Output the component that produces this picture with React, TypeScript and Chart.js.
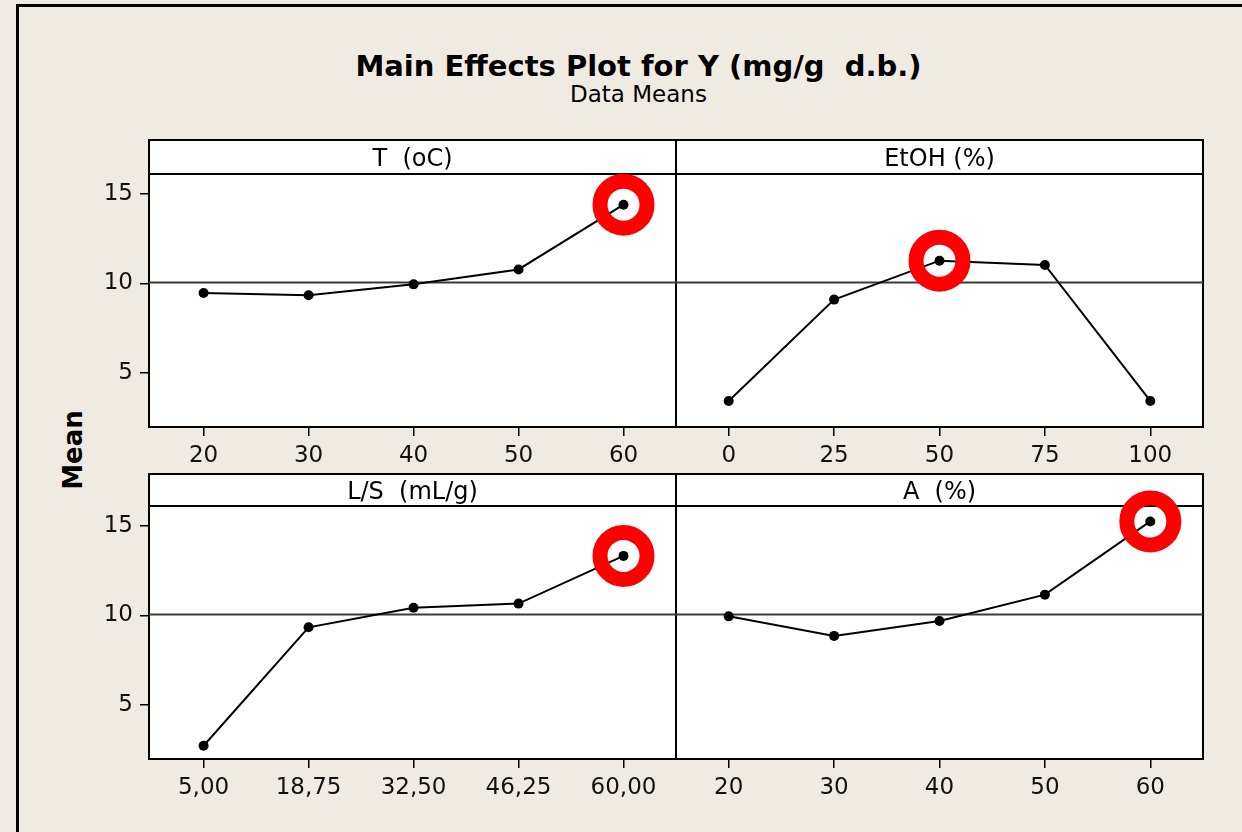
import React, { useEffect, useRef } from 'react';
import { Chart, registerables } from 'chart.js';

Chart.register(...registerables);

const FONT = "'DejaVu Sans', 'Liberation Sans', sans-serif";
const PAGE_BG = '#F0EBE2';

// Factor levels and the mean response at each level
const tLevels = ['20', '30', '40', '50', '60'];
const tMeans = [9.47, 9.34, 9.95, 10.78, 14.39];

const etohLevels = ['0', '25', '50', '75', '100'];
const etohMeans = [3.45, 9.1, 11.27, 11.03, 3.45];

const lsLevels = ['5,00', '18,75', '32,50', '46,25', '60,00'];
const lsMeans = [2.74, 9.34, 10.43, 10.66, 13.32];

const aLevels = ['20', '30', '40', '50', '60'];
const aMeans = [9.95, 8.86, 9.69, 11.16, 15.24];

// Overall mean of Y and the shared mean axis
const grandMean = 10.05;
const meanTicks = [5, 10, 15];
const meanMin = 2.0;
const meanMax = 16.1;

type Panel = {
  id: string;
  title: string;
  levels: string[];
  means: number[];
  min: number;
  max: number;
};

const argMax = (v: number[]) => v.indexOf(Math.max(...v));

// Draws the white panel boxes with their header strips behind the data
function panelFrames(panels: Panel[], headerH: number) {
  return {
    id: 'panelFrames',
    beforeDraw(chart: any) {
      const { ctx, chartArea } = chart;
      ctx.save();
      for (const p of panels) {
        const s = chart.scales[p.id];
        const left = s.left;
        const w = s.right - s.left;
        const top = chartArea.top;
        const h = chartArea.bottom - chartArea.top;
        ctx.fillStyle = '#FFFFFF';
        ctx.fillRect(left, top - headerH, w, h + headerH);
        ctx.strokeStyle = '#000000';
        ctx.lineWidth = 2;
        ctx.strokeRect(left, top - headerH, w, headerH);
        ctx.strokeRect(left, top, w, h);
        ctx.fillStyle = '#000000';
        ctx.font = `24px ${FONT}`;
        ctx.textAlign = 'center';
        ctx.textBaseline = 'alphabetic';
        ctx.fillText(p.title, left + w / 2, top - headerH / 2 + 8.75);
      }
      ctx.restore();
    },
  };
}

function buildRow(
  canvas: HTMLCanvasElement,
  panels: Panel[],
  padTop: number,
  headerH: number,
  axisH: number
) {
  const datasets: any[] = [];
  for (const p of panels) {
    const best = argMax(p.means);
    datasets.push({
      label: `${p.title} best level`,
      xAxisID: p.id,
      yAxisID: 'y',
      data: [{ x: best, y: p.means[best] }],
      showLine: false,
      pointRadius: 23.5,
      pointHoverRadius: 23.5,
      pointBorderWidth: 15,
      pointBorderColor: '#FF0000',
      pointBackgroundColor: 'rgba(0,0,0,0)',
      clip: false,
      order: 0,
    });
    datasets.push({
      label: p.title,
      xAxisID: p.id,
      yAxisID: 'y',
      data: p.means.map((y, i) => ({ x: i, y })),
      borderColor: '#000000',
      borderWidth: 2,
      pointRadius: 5,
      pointHoverRadius: 5,
      pointBackgroundColor: '#000000',
      pointBorderWidth: 0,
      order: 1,
    });
    datasets.push({
      label: 'Grand mean',
      xAxisID: p.id,
      yAxisID: 'y',
      data: [
        { x: p.min, y: grandMean },
        { x: p.max, y: grandMean },
      ],
      borderColor: '#3A3A3A',
      borderWidth: 2,
      pointRadius: 0,
      pointHoverRadius: 0,
      order: 2,
    });
  }

  const tickFont = { family: FONT, size: 23 };
  const grid = {
    drawOnChartArea: false,
    drawTicks: true,
    tickLength: 9,
    color: '#000000',
    lineWidth: 1.5,
  };

  const scales: any = {};
  for (const p of panels) {
    scales[p.id] = {
      type: 'linear',
      position: 'bottom',
      stack: 'row',
      min: p.min,
      max: p.max,
      afterBuildTicks: (s: any) => {
        s.ticks = p.levels.map((_l, i) => ({ value: i }));
      },
      afterFit: (s: any) => {
        s.height = axisH;
        s.paddingLeft = 0;
        s.paddingRight = 0;
      },
      ticks: {
        callback: (_v: any, i: number) => p.levels[i],
        font: tickFont,
        color: '#111111',
        padding: 6,
        maxRotation: 0,
        autoSkip: false,
      },
      grid,
      border: { display: false },
    };
  }
  scales.y = {
    type: 'linear',
    position: 'left',
    min: meanMin,
    max: meanMax,
    afterBuildTicks: (s: any) => {
      s.ticks = meanTicks.map((v) => ({ value: v }));
    },
    afterFit: (s: any) => {
      s.width = 149;
      s.paddingTop = 0;
      s.paddingBottom = 0;
    },
    ticks: { font: tickFont, color: '#111111', padding: 7 },
    grid,
    border: { display: false },
  };

  return new Chart(canvas, {
    type: 'line',
    data: { datasets },
    options: {
      animation: false,
      responsive: false,
      maintainAspectRatio: false,
      devicePixelRatio: 1,
      events: [],
      layout: { padding: { left: 0, right: 39, top: padTop, bottom: 0 } },
      plugins: {
        legend: { display: false },
        tooltip: { enabled: false },
        title: { display: false },
      },
      scales,
    },
    plugins: [panelFrames(panels, headerH)],
  } as any);
}

export default function App() {
  const topRef = useRef<HTMLCanvasElement | null>(null);
  const bottomRef = useRef<HTMLCanvasElement | null>(null);

  useEffect(() => {
    const top = buildRow(
      topRef.current!,
      [
        { id: 'xT', title: 'T  (oC)', levels: tLevels, means: tMeans, min: -0.52, max: 4.5 },
        { id: 'xE', title: 'EtOH (%)', levels: etohLevels, means: etohMeans, min: -0.5, max: 4.5 },
      ],
      54,
      34,
      47
    );
    const bottom = buildRow(
      bottomRef.current!,
      [
        { id: 'xL', title: 'L/S  (mL/g)', levels: lsLevels, means: lsMeans, min: -0.52, max: 4.5 },
        { id: 'xA', title: 'A  (%)', levels: aLevels, means: aMeans, min: -0.5, max: 4.5 },
      ],
      40,
      32,
      73
    );
    return () => {
      top.destroy();
      bottom.destroy();
    };
  }, []);

  return (
    <div
      style={{
        position: 'fixed',
        left: 0,
        top: 0,
        width: 1242,
        height: 832,
        overflow: 'hidden',
        background: PAGE_BG,
        fontFamily: FONT,
        color: '#000',
      }}
    >
      <div
        style={{
          position: 'absolute',
          left: 16,
          top: 4,
          width: 1400,
          height: 1000,
          border: '3px solid #000',
        }}
      />
      <div
        style={{
          position: 'absolute',
          left: 138.5,
          top: 51.5,
          width: 1000,
          textAlign: 'center',
          fontSize: 29,
          lineHeight: '29px',
          fontWeight: 'bold',
          whiteSpace: 'pre',
        }}
      >
        {'Main Effects Plot for Y (mg/g  d.b.)'}
      </div>
      <div
        style={{
          position: 'absolute',
          left: 138.5,
          top: 82.5,
          width: 1000,
          textAlign: 'center',
          fontSize: 23,
          lineHeight: '23px',
        }}
      >
        Data Means
      </div>
      <div style={{ position: 'absolute', left: 72.5, top: 450, width: 0, height: 0 }}>
        <span
          style={{
            position: 'absolute',
            left: 0,
            top: 0,
            transform: 'translate(-50%, -50%) rotate(-90deg)',
            fontSize: 26,
            lineHeight: '26px',
            fontWeight: 'bold',
            whiteSpace: 'nowrap',
          }}
        >
          Mean
        </span>
      </div>
      <canvas
        ref={topRef}
        width={1242}
        height={354}
        style={{ position: 'absolute', left: 0, top: 120, width: 1242, height: 354 }}
      />
      <canvas
        ref={bottomRef}
        width={1242}
        height={366}
        style={{ position: 'absolute', left: 0, top: 466, width: 1242, height: 366 }}
      />
    </div>
  );
}
